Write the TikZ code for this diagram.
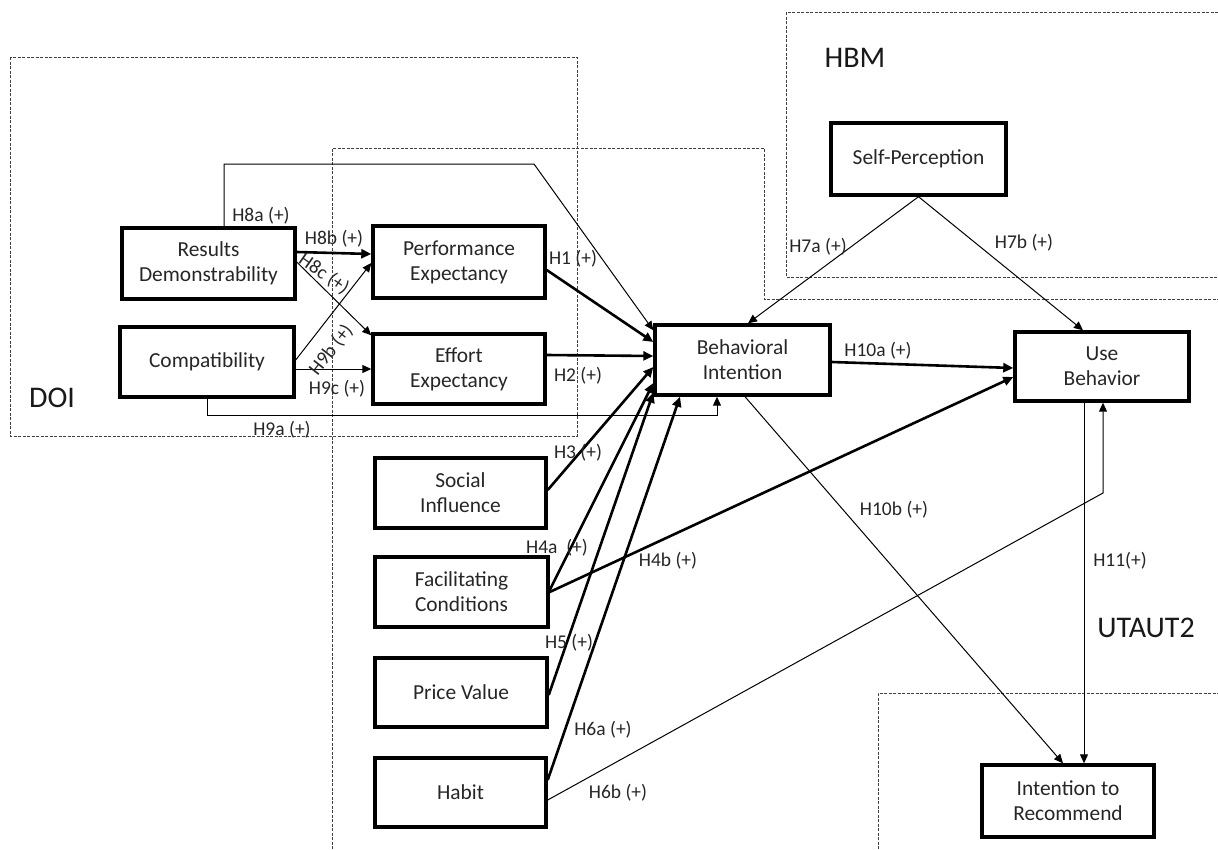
\documentclass[tikz,border=0pt]{standalone}
\usepackage{fontspec}
\setmainfont{Carlito}
\usetikzlibrary{arrows.meta,calc}
\begin{document}
\begin{tikzpicture}[x=1pt,y=-1pt,
  box/.style={draw,line width=3.4pt,align=center,inner sep=2pt,text=black!85,font=\fontsize{21.4}{25}\selectfont},
  thk/.style={line width=2.6pt,-{Triangle[length=10pt,width=9pt]}},
  thn/.style={line width=1pt,-{Triangle[length=9pt,width=8pt]}},
  lbl/.style={font=\fontsize{19.5}{21}\selectfont,inner sep=0pt,text=black!85},
  big/.style={font=\fontsize{30}{32}\selectfont,inner sep=0pt,text=black!90},
  frame/.style={line width=1pt,dash pattern=on 3pt off 1.5pt,draw=black!75}]
\useasboundingbox (0,0) rectangle (1218,849);
% dashed frames
\draw[frame] (10,57) rectangle (577,436);
\draw[frame] (332,849) -- (332,148) -- (764,148) -- (764,299) -- (1218,299);
\draw[frame] (878,849) -- (878,693) -- (1218,693);
\draw[frame] (1218,12) -- (786,12) -- (786,277) -- (1218,277);
\node[big] (doi) at (52,398) {DOI};
\node[big] (hbm) at (855,58) {HBM};
\node[big] (utaut) at (1146,628) {UTAUT2};
% nodes
\node[box,minimum width=173pt,minimum height=71pt] (rd) at (208.5,263.5) {Results\\Demonstrability};
\node[box,minimum width=174pt,minimum height=70pt] (cp) at (207,362) {Compatibility};
\node[box,minimum width=172pt,minimum height=72pt] (pe) at (459,262) {Performance\\Expectancy};
\node[box,minimum width=172pt,minimum height=70pt] (ee) at (459,369) {Effort\\Expectancy};
\node[box,minimum width=175pt,minimum height=70pt] (bi) at (742.5,360) {Behavioral\\Intention};
\node[box,minimum width=175pt,minimum height=72pt] (sp) at (918.5,159) {Self-Perception};
\node[box,minimum width=174pt,minimum height=69pt] (ub) at (1102,366.5) {Use\\Behavior};
\node[box,minimum width=172pt,minimum height=72pt] (ir) at (1068,801) {Intention to\\Recommend};
\node[box,minimum width=171pt,minimum height=70pt] (si) at (460.5,493) {Social\\Influence};
\node[box,minimum width=173pt,minimum height=70pt] (fc) at (461.5,592) {Facilitating\\Conditions};
\node[box,minimum width=172pt,minimum height=69pt] (pv) at (461,692.5) {Price Value};
\node[box,minimum width=171pt,minimum height=69pt] (hb) at (460.5,792.5) {Habit};
% bend points
\coordinate (h8abend) at (534,164);
\coordinate (h6bbend) at (1103,493);
\coordinate (h9abend) at (207,415);
% connectors
\draw[thn] ($(rd.north)+(15.5,0)$) |- (h8abend) -- ($(bi.north west)+(0,7)$);
\draw[thk] ($(rd.east)+(0,-11.5)$) -- ($(pe.west)+(0,-8)$);
\draw[thn] ($(rd.east)+(0,-1.5)$) -- ($(ee.north west)+(0,3)$);
\draw[thn] ($(cp.east)+(0,-2)$) -- ($(pe.west)+(0,1)$);
\draw[thn] ($(cp.east)+(0,7)$) -- (ee.west);
\draw[thn] (cp.south) -- (h9abend) -| ($(bi.south)+(-25.5,0)$);
\draw[thk] ($(pe.east)+(0,8)$) -- ($(bi.west)+(0,-18)$);
\draw[thk] ($(ee.east)+(0,-14)$) -- ($(bi.west)+(0,-4)$);
\draw[thk] ($(si.east)+(0,-3)$) -- ($(bi.west)+(0,7)$);
\draw[thk] ($(fc.east)+(0,-2)$) -- ($(bi.west)+(0,23)$);
\draw[thk] (fc.east) -- ($(ub.west)+(0,10.5)$);
\draw[thk] ($(pv.east)+(0,2.5)$) -- ($(bi.south west)+(0,-4)$);
\draw[thk] ($(hb.east)+(0,-12.5)$) -- ($(bi.south)+(-62.5,0)$);
\draw[thn] ($(hb.east)+(0,7.5)$) -- (h6bbend) -- ($(ub.south)+(1,0)$);
\draw[thn] (sp.south) -- ($(bi.north)+(5.5,0)$);
\draw[thn] (sp.south) -- ($(ub.north)+(-19,0)$);
\draw[thk] ($(bi.east)+(0,2)$) -- ($(ub.west)+(0,1.5)$);
\draw[thn] ($(bi.south)+(2.5,0)$) -- ($(ir.north)+(-5,0)$);
\draw[thn] ($(ub.south)+(-18,0)$) -- ($(ir.north)+(16,0)$);
% labels
\node[lbl] (l8a) at (261,216) {H8a (+)};
\node[lbl] (l8b) at (334,239) {H8b (+)};
\node[lbl,rotate=-35] (l8c) at (324,274) {H8c (+)};
\node[lbl,rotate=52] (l9b) at (331,350) {H9b (+)};
\node[lbl] (l9c) at (337,389) {H9c (+)};
\node[lbl] (l9a) at (282,430) {H9a (+)};
\node[lbl] (l1) at (573,259) {H1 (+)};
\node[lbl] (l2) at (578,376) {H2 (+)};
\node[lbl] (l3) at (578,453) {H3 (+)};
\node[lbl] (l4a) at (557,548) {H4a~~(+)};
\node[lbl] (l4b) at (668,561) {H4b (+)};
\node[lbl] (l5) at (569,643) {H5 (+)};
\node[lbl] (l6a) at (603,730) {H6a (+)};
\node[lbl] (l6b) at (618,793) {H6b (+)};
\node[lbl] (l7a) at (818,247) {H7a (+)};
\node[lbl] (l7b) at (1024,243) {H7b (+)};
\node[lbl] (l10a) at (878,351) {H10a (+)};
\node[lbl] (l10b) at (894,510) {H10b (+)};
\node[lbl] (l11) at (1120,561) {H11(+)};
\end{tikzpicture}
\end{document}
